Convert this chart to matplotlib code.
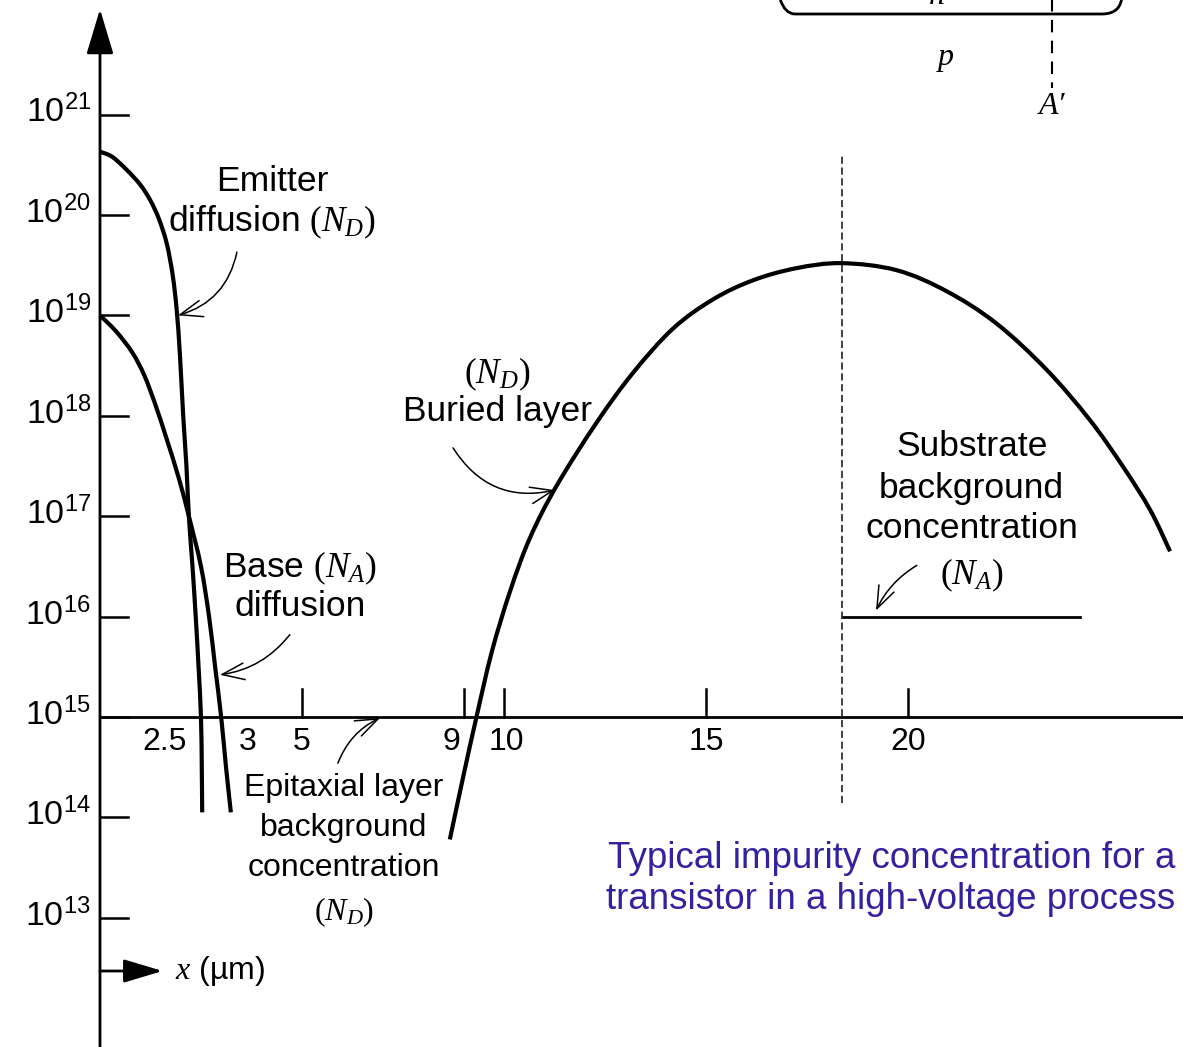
import numpy as np
import matplotlib.pyplot as plt
from matplotlib.patches import FancyBboxPatch, PathPatch
from matplotlib.path import Path
from matplotlib.transforms import IdentityTransform

plt.rcParams['font.family'] = ['Liberation Sans', 'DejaVu Sans']
plt.rcParams['mathtext.fontset'] = 'custom'
plt.rcParams['mathtext.rm'] = 'Liberation Serif'
plt.rcParams['mathtext.it'] = 'Liberation Serif:italic'
plt.rcParams['mathtext.sf'] = 'Liberation Sans'

# depth (um) and log10 of concentration (cm^-3)
emitter_x = [0, 0.3, 0.66, 1.0, 1.24, 1.45, 1.65, 1.8, 1.9, 1.98, 2.06, 2.14, 2.2,
             2.29, 2.37, 2.44, 2.5, 2.52, 2.53]
emitter_logN = [20.63, 20.58, 20.45, 20.3, 20.15, 19.97, 19.72, 19.4, 19.05, 18.6, 18.0,
                17.5, 17.0, 16.5, 16.0, 15.5, 15.0, 14.5, 14.05]

base_x = [0, 0.4, 0.8, 1.1, 1.38, 1.65, 1.95, 2.2, 2.5, 2.7, 2.85, 3.0, 3.12, 3.24]
base_logN = [19.0, 18.84, 18.63, 18.4, 18.1, 17.77, 17.38, 17.0, 16.5, 16.0, 15.5,
             15.0, 14.5, 14.05]

buried_x = [8.66, 9.0, 9.32, 9.7, 10.15, 10.64, 11.3, 12.29, 13.2, 14.19, 15.18, 16.17,
            17.24, 18.36, 19.72, 20.96, 22.19, 23.43, 24.5, 25.33, 26.0, 26.49]
buried_logN = [13.78, 14.42, 15.0, 15.65, 16.25, 16.78, 17.3, 17.93, 18.43, 18.87, 19.16,
               19.35, 19.47, 19.52, 19.45, 19.24, 18.92, 18.46, 17.96, 17.49, 17.06, 16.65]

epi_N = 1e15            # epitaxial background (N_D), drawn as the x axis
substrate_N = 1e16      # substrate background (N_A)
substrate_x = [18.36, 24.26]
peak_x = 18.36

decades = [13, 14, 15, 16, 17, 18, 19, 20, 21]
xticks = [5, 9, 10, 15, 20]
xtick_labels = ['5', '9', '10', '15', '20']
xtick_label_pos = [5, 8.7, 10.07, 15, 20]


def smooth_path(xs, ls):
    # Catmull-Rom through the points, as cubic Bezier segments
    P = np.column_stack([xs, ls]).astype(float)
    verts = [P[0]]
    codes = [Path.MOVETO]
    n = len(P)
    for i in range(n - 1):
        p0 = P[i - 1] if i > 0 else P[i]
        p3 = P[i + 2] if i + 2 < n else P[i + 1]
        verts += [P[i] + (P[i + 1] - p0) / 6, P[i + 1] - (p3 - P[i]) / 6, P[i + 1]]
        codes += [Path.CURVE4] * 3
    V = np.array(verts)
    V[:, 1] = 10 ** V[:, 1]
    return Path(V, codes)


fig = plt.figure(figsize=(11.83, 10.47), dpi=100)
ax = fig.add_axes([0, 0, 1, 1])
ax.set_yscale('log')
ax.set_xlim(-2.475, 26.81)
ax.set_ylim(10**11.713, 10**22.141)
ax.axis('off')

fs = 23
fs2 = 25.5
# axes
ax.annotate('', xy=(0, 10**22.05), xytext=(0, 10**11.6),
            arrowprops=dict(arrowstyle='-|>,head_length=1.0,head_width=0.3',
                            lw=2, color='k', mutation_scale=28, shrinkA=0, shrinkB=0))
ax.plot([0, 26.9], [epi_N, epi_N], color='k', lw=2)
for d in decades:
    ax.plot([0, 0.7], [10**d, 10**d], color='k', lw=1.8)
    ax.text(-0.22, 10**(d - 0.08), r'$\mathsf{10^{%d}}$' % d, ha='right', va='baseline',
            fontsize=24.5)
for t, lab, lp in zip(xticks, xtick_labels, xtick_label_pos):
    ax.plot([t, t], [epi_N, 10**15.28], color='k', lw=1.8)
    ax.text(lp, 10**14.75, lab, ha='center', va='center', fontsize=fs)
ax.text(2.15, 10**14.75, '2.5', ha='right', va='center', fontsize=fs)
ax.text(3.44, 10**14.75, '3', ha='left', va='center', fontsize=fs)

# x direction marker
ax.annotate('', xy=(1.55, 10**12.47), xytext=(0, 10**12.47),
            arrowprops=dict(arrowstyle='-|>,head_length=1.0,head_width=0.3',
                            lw=2, color='k', mutation_scale=24, shrinkA=0, shrinkB=0))
ax.text(1.86, 10**12.47, r'$x$ (µm)', ha='left', va='center', fontsize=fs)

# profiles
for xs, ls in [(emitter_x, emitter_logN), (base_x, base_logN), (buried_x, buried_logN)]:
    ax.add_patch(PathPatch(smooth_path(xs, ls), fill=False, lw=3, ec='k', capstyle='butt'))
ax.plot(substrate_x, [substrate_N, substrate_N], color='k', lw=2)
ax.plot([peak_x, peak_x], [10**14.14, 10**20.6], color='#333333', lw=1.3, ls=(0, (4, 2)))

# labels with arrows
arrow_kw = dict(arrowstyle='->,head_length=0.8,head_width=0.3', lw=1.1, color='k',
                mutation_scale=20, shrinkA=0, shrinkB=0)


def label(lines, x, ys, size):
    for s, y in zip(lines, ys):
        ax.text(x, 10**y, s, ha='center', va='center', fontsize=size)


label(['Emitter', r'diffusion $(N_D)$'], 4.26, [20.33, 19.93], fs2)
ax.annotate('', xy=(1.93, 10**19.0), xytext=(3.39, 10**19.63),
            arrowprops=dict(connectionstyle='arc3,rad=-0.3', **arrow_kw))

label([r'Base $(N_A)$', 'diffusion'], 4.95, [16.48, 16.1], fs2)
ax.annotate('', xy=(2.97, 10**15.42), xytext=(4.7, 10**15.82),
            arrowprops=dict(connectionstyle='arc3,rad=-0.2', **arrow_kw))

label([r'$(N_D)$', 'Buried layer'], 9.83, [18.41, 18.04], fs2)
ax.annotate('', xy=(11.26, 10**17.26), xytext=(8.74, 10**17.68),
            arrowprops=dict(connectionstyle='arc3,rad=0.35', **arrow_kw))

label(['Epitaxial layer', 'background', 'concentration', r'$(N_D)$'], 6.04,
      [14.29, 13.89, 13.5, 13.06], fs)
ax.annotate('', xy=(6.93, 10**14.99), xytext=(5.89, 10**14.54),
            arrowprops=dict(connectionstyle='arc3,rad=-0.2', **arrow_kw))

label(['Substrate', 'background', 'concentration', r'$(N_A)$'], 21.58,
      [17.69, 17.28, 16.88, 16.41], fs2)
ax.annotate('', xy=(19.21, 10**16.06), xytext=(20.22, 10**16.51),
            arrowprops=dict(connectionstyle='arc3,rad=0.15', **arrow_kw))

# cross-section sketch, top right
box = FancyBboxPatch((775, 1033), 347, 80, boxstyle='round,pad=0,rounding_size=20',
                     transform=IdentityTransform(), fill=False, lw=2, ec='k')
fig.add_artist(box)
ax.plot([23.56, 23.56], [10**22.3, 10**21.265], color='k', lw=1.5, ls=(0, (6, 4)))
ax.text(23.56, 10**21.08, 'A′', ha='center', va='center', fontsize=fs,
        family='Liberation Serif', style='italic')
ax.text(20.94, 10**21.57, 'p', ha='center', va='center', fontsize=fs,
        family='Liberation Serif', style='italic')
ax.text(20.72, 10**22.1, 'n', ha='center', va='baseline', fontsize=fs,
        family='Liberation Serif', style='italic')

ax.text(26.61, 10**13.39, 'Typical impurity concentration for a\ntransistor in a high-voltage process',
        ha='right', va='center', fontsize=26.5, color='#33229f', linespacing=1.22)

fig.savefig('out.png', dpi=100)
